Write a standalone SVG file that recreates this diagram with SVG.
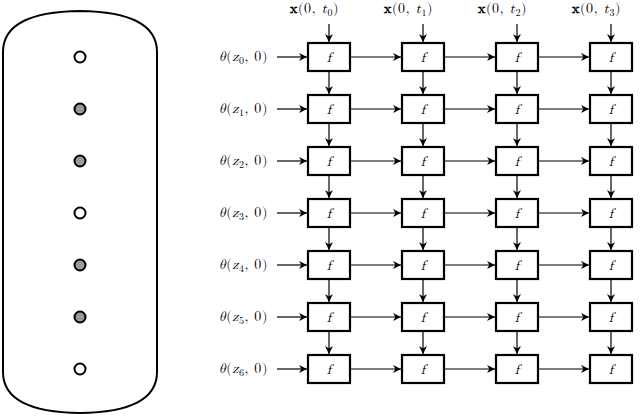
<svg xmlns="http://www.w3.org/2000/svg" width="640" height="418" viewBox="0 0 640 418">
<defs><marker id="a" viewBox="0 0 10 10" refX="10" refY="5" markerWidth="8" markerHeight="8" orient="auto" markerUnits="userSpaceOnUse"><path d="M0,0 L10,5 L0,10 L3,5 Z" fill="#000"/></marker></defs>
<style>
.b{fill:#fff;stroke:#000;stroke-width:2.2}
#connectors line{stroke:#000;stroke-width:1.2;marker-end:url(#a)}
.t{font-family:"Latin Modern Math","DejaVu Serif",serif;font-size:14px;letter-spacing:0.6px}
.f{font-family:"Latin Modern Math","DejaVu Serif",serif;font-style:italic;font-size:14px;text-anchor:middle}
.d{stroke:#000;stroke-width:2}
</style>
<g id="capsule">
<path d="M3,52 Q3,12 80,11 Q157,12 157,52 L157,372 Q157,412 80,413 Q3,412 3,372 Z" fill="none" stroke="#000" stroke-width="2"/>
<circle class="d" cx="80" cy="57" r="5.5" fill="#fff"/>
<circle class="d" cx="80" cy="109" r="5.5" fill="#999"/>
<circle class="d" cx="80" cy="161" r="5.5" fill="#999"/>
<circle class="d" cx="80" cy="213" r="5.5" fill="#fff"/>
<circle class="d" cx="80" cy="265" r="5.5" fill="#999"/>
<circle class="d" cx="80" cy="317" r="5.5" fill="#999"/>
<circle class="d" cx="80" cy="369" r="5.5" fill="#fff"/>
</g>
<g id="labels" class="t">
<text x="290" y="13"><tspan font-weight="bold">x</tspan>(0, <tspan font-style="italic">t</tspan><tspan font-size="10" dy="3">0</tspan><tspan dy="-3">)</tspan></text>
<text x="384" y="13"><tspan font-weight="bold">x</tspan>(0, <tspan font-style="italic">t</tspan><tspan font-size="10" dy="3">1</tspan><tspan dy="-3">)</tspan></text>
<text x="478" y="13"><tspan font-weight="bold">x</tspan>(0, <tspan font-style="italic">t</tspan><tspan font-size="10" dy="3">2</tspan><tspan dy="-3">)</tspan></text>
<text x="572" y="13"><tspan font-weight="bold">x</tspan>(0, <tspan font-style="italic">t</tspan><tspan font-size="10" dy="3">3</tspan><tspan dy="-3">)</tspan></text>
<text x="268" y="61" text-anchor="end"><tspan font-style="italic">θ</tspan>(<tspan font-style="italic">z</tspan><tspan font-size="10" dy="3">0</tspan><tspan dy="-3">, 0)</tspan></text>
<text x="268" y="113" text-anchor="end"><tspan font-style="italic">θ</tspan>(<tspan font-style="italic">z</tspan><tspan font-size="10" dy="3">1</tspan><tspan dy="-3">, 0)</tspan></text>
<text x="268" y="165" text-anchor="end"><tspan font-style="italic">θ</tspan>(<tspan font-style="italic">z</tspan><tspan font-size="10" dy="3">2</tspan><tspan dy="-3">, 0)</tspan></text>
<text x="268" y="217" text-anchor="end"><tspan font-style="italic">θ</tspan>(<tspan font-style="italic">z</tspan><tspan font-size="10" dy="3">3</tspan><tspan dy="-3">, 0)</tspan></text>
<text x="268" y="269" text-anchor="end"><tspan font-style="italic">θ</tspan>(<tspan font-style="italic">z</tspan><tspan font-size="10" dy="3">4</tspan><tspan dy="-3">, 0)</tspan></text>
<text x="268" y="321" text-anchor="end"><tspan font-style="italic">θ</tspan>(<tspan font-style="italic">z</tspan><tspan font-size="10" dy="3">5</tspan><tspan dy="-3">, 0)</tspan></text>
<text x="268" y="373" text-anchor="end"><tspan font-style="italic">θ</tspan>(<tspan font-style="italic">z</tspan><tspan font-size="10" dy="3">6</tspan><tspan dy="-3">, 0)</tspan></text>
</g>
<g id="connectors">
<line x1="329" y1="24" x2="329" y2="42"/><line x1="423" y1="24" x2="423" y2="42"/><line x1="517" y1="24" x2="517" y2="42"/><line x1="611" y1="24" x2="611" y2="42"/>
<line x1="277" y1="57" x2="307" y2="57"/><line x1="350" y1="57" x2="401" y2="57"/><line x1="444" y1="57" x2="495" y2="57"/><line x1="538" y1="57" x2="589" y2="57"/>
<line x1="277" y1="109" x2="307" y2="109"/><line x1="350" y1="109" x2="401" y2="109"/><line x1="444" y1="109" x2="495" y2="109"/><line x1="538" y1="109" x2="589" y2="109"/>
<line x1="277" y1="161" x2="307" y2="161"/><line x1="350" y1="161" x2="401" y2="161"/><line x1="444" y1="161" x2="495" y2="161"/><line x1="538" y1="161" x2="589" y2="161"/>
<line x1="277" y1="213" x2="307" y2="213"/><line x1="350" y1="213" x2="401" y2="213"/><line x1="444" y1="213" x2="495" y2="213"/><line x1="538" y1="213" x2="589" y2="213"/>
<line x1="277" y1="265" x2="307" y2="265"/><line x1="350" y1="265" x2="401" y2="265"/><line x1="444" y1="265" x2="495" y2="265"/><line x1="538" y1="265" x2="589" y2="265"/>
<line x1="277" y1="317" x2="307" y2="317"/><line x1="350" y1="317" x2="401" y2="317"/><line x1="444" y1="317" x2="495" y2="317"/><line x1="538" y1="317" x2="589" y2="317"/>
<line x1="277" y1="369" x2="307" y2="369"/><line x1="350" y1="369" x2="401" y2="369"/><line x1="444" y1="369" x2="495" y2="369"/><line x1="538" y1="369" x2="589" y2="369"/>
<line x1="329" y1="71" x2="329" y2="94"/><line x1="423" y1="71" x2="423" y2="94"/><line x1="517" y1="71" x2="517" y2="94"/><line x1="611" y1="71" x2="611" y2="94"/>
<line x1="329" y1="123" x2="329" y2="146"/><line x1="423" y1="123" x2="423" y2="146"/><line x1="517" y1="123" x2="517" y2="146"/><line x1="611" y1="123" x2="611" y2="146"/>
<line x1="329" y1="175" x2="329" y2="198"/><line x1="423" y1="175" x2="423" y2="198"/><line x1="517" y1="175" x2="517" y2="198"/><line x1="611" y1="175" x2="611" y2="198"/>
<line x1="329" y1="227" x2="329" y2="250"/><line x1="423" y1="227" x2="423" y2="250"/><line x1="517" y1="227" x2="517" y2="250"/><line x1="611" y1="227" x2="611" y2="250"/>
<line x1="329" y1="279" x2="329" y2="302"/><line x1="423" y1="279" x2="423" y2="302"/><line x1="517" y1="279" x2="517" y2="302"/><line x1="611" y1="279" x2="611" y2="302"/>
<line x1="329" y1="331" x2="329" y2="354"/><line x1="423" y1="331" x2="423" y2="354"/><line x1="517" y1="331" x2="517" y2="354"/><line x1="611" y1="331" x2="611" y2="354"/>
</g>
<g id="boxes">
<rect class="b" x="308" y="43" width="42" height="28"/><rect class="b" x="402" y="43" width="42" height="28"/><rect class="b" x="496" y="43" width="42" height="28"/><rect class="b" x="590" y="43" width="42" height="28"/>
<rect class="b" x="308" y="95" width="42" height="28"/><rect class="b" x="402" y="95" width="42" height="28"/><rect class="b" x="496" y="95" width="42" height="28"/><rect class="b" x="590" y="95" width="42" height="28"/>
<rect class="b" x="308" y="147" width="42" height="28"/><rect class="b" x="402" y="147" width="42" height="28"/><rect class="b" x="496" y="147" width="42" height="28"/><rect class="b" x="590" y="147" width="42" height="28"/>
<rect class="b" x="308" y="199" width="42" height="28"/><rect class="b" x="402" y="199" width="42" height="28"/><rect class="b" x="496" y="199" width="42" height="28"/><rect class="b" x="590" y="199" width="42" height="28"/>
<rect class="b" x="308" y="251" width="42" height="28"/><rect class="b" x="402" y="251" width="42" height="28"/><rect class="b" x="496" y="251" width="42" height="28"/><rect class="b" x="590" y="251" width="42" height="28"/>
<rect class="b" x="308" y="303" width="42" height="28"/><rect class="b" x="402" y="303" width="42" height="28"/><rect class="b" x="496" y="303" width="42" height="28"/><rect class="b" x="590" y="303" width="42" height="28"/>
<rect class="b" x="308" y="355" width="42" height="28"/><rect class="b" x="402" y="355" width="42" height="28"/><rect class="b" x="496" y="355" width="42" height="28"/><rect class="b" x="590" y="355" width="42" height="28"/>
</g>
<g id="flabels" class="f">
<text x="329" y="62">f</text><text x="423" y="62">f</text><text x="517" y="62">f</text><text x="611" y="62">f</text>
<text x="329" y="114">f</text><text x="423" y="114">f</text><text x="517" y="114">f</text><text x="611" y="114">f</text>
<text x="329" y="166">f</text><text x="423" y="166">f</text><text x="517" y="166">f</text><text x="611" y="166">f</text>
<text x="329" y="218">f</text><text x="423" y="218">f</text><text x="517" y="218">f</text><text x="611" y="218">f</text>
<text x="329" y="270">f</text><text x="423" y="270">f</text><text x="517" y="270">f</text><text x="611" y="270">f</text>
<text x="329" y="322">f</text><text x="423" y="322">f</text><text x="517" y="322">f</text><text x="611" y="322">f</text>
<text x="329" y="374">f</text><text x="423" y="374">f</text><text x="517" y="374">f</text><text x="611" y="374">f</text>
</g>
</svg>
